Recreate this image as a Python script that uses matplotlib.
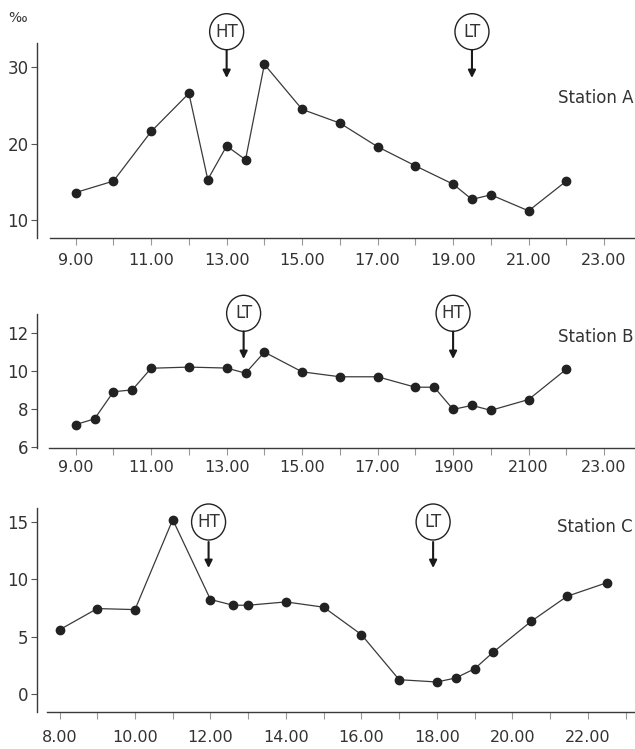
import matplotlib
matplotlib.use("Agg")
import matplotlib.pyplot as plt
from matplotlib.patches import Ellipse

# ---------------- data ----------------
a_time = [9.0, 10.0, 11.0, 12.0, 12.5, 13.0, 13.5, 14.0, 15.0, 16.0, 17.0, 18.0, 19.0, 19.5, 20.0, 21.0, 22.0]
a_sal = [13.6, 15.1, 21.6, 26.6, 15.3, 19.7, 17.9, 30.4, 24.5, 22.7, 19.6, 17.1, 14.7, 12.7, 13.3, 11.2, 15.1]

b_time = [9.0, 9.5, 10.0, 10.5, 11.0, 12.0, 13.0, 13.5, 14.0, 15.0, 16.0, 17.0, 18.0, 18.5, 19.0, 19.5, 20.0, 21.0, 22.0]
b_sal = [7.17, 7.47, 8.9, 9.0, 10.14, 10.2, 10.15, 9.88, 10.99, 9.95, 9.69, 9.69, 9.14, 9.14, 7.97, 8.18, 7.92, 8.49, 10.09]

c_time = [8.0, 9.0, 10.0, 11.0, 12.0, 12.6, 13.0, 14.0, 15.0, 16.0, 17.0, 18.0, 18.5, 19.0, 19.5, 20.5, 21.45, 22.5]
c_sal = [5.6, 7.45, 7.36, 15.2, 8.24, 7.74, 7.74, 8.03, 7.57, 5.18, 1.25, 1.05, 1.4, 2.2, 3.67, 6.34, 8.52, 9.7]

ab_xticks = [9, 11, 13, 15, 17, 19, 21, 23]
a_xlabels = ["9.00", "11.00", "13.00", "15.00", "17.00", "19.00", "21.00", "23.00"]
b_xlabels = ["9.00", "11.00", "13.00", "15.00", "17.00", "1900", "2100", "23.00"]
c_xticks = [8, 10, 12, 14, 16, 18, 20, 22]
c_xlabels = ["8.00", "10.00", "12.00", "14.00", "16.00", "18.00", "20.00", "22.00"]

a_yticks = [10, 20, 30]
b_yticks = [6, 8, 10, 12]
c_yticks = [0, 5, 10, 15]

a_tides = [("HT", 13.0), ("LT", 19.5)]
b_tides = [("LT", 13.45), ("HT", 19.0)]
c_tides = [("HT", 11.95), ("LT", 17.9)]

stations = ["Station A", "Station B", "Station C"]

# ---------------- layout ----------------
W, H = 635, 749
fig = plt.figure(figsize=(W / 100, H / 100), dpi=100)
plt.rcParams['font.family'] = ['DejaVu Sans']

TXT = '#333333'
LINE = '#3a3a3a'
DOT = '#222222'


def fx(px):
    return px / W


def fy(py):
    return 1 - py / H


panels = [
    dict(px=(37, 635, 43, 238), xlim=(7.975, 23.82), ylim=(7.64, 33.2), xs=8.32,
         t=a_time, v=a_sal, xt=ab_xticks, xl=a_xlabels, yt=a_yticks, tides=a_tides,
         pad=6, circ=31.7, arr=(50, 78), st_y=98),
    dict(px=(37, 635, 314, 447.7), xlim=(7.975, 23.82), ylim=(5.95, 13.0), xs=8.29,
         t=b_time, v=b_sal, xt=ab_xticks, xl=b_xlabels, yt=b_yticks, tides=b_tides,
         pad=4, circ=313.3, arr=(331.5, 359), st_y=337),
    dict(px=(36.5, 635, 508.3, 711.7), xlim=(7.39, 23.25), ylim=(-1.54, 16.19), xs=7.67,
         t=c_time, v=c_sal, xt=c_xticks, xl=c_xlabels, yt=c_yticks, tides=c_tides,
         pad=8, circ=522, arr=(542, 568), st_y=527),
]

for i, p in enumerate(panels):
    l, r, t, b = p['px']
    ax = fig.add_axes([fx(l), fy(b), fx(r - l), (b - t) / H])
    ax.set_xlim(*p['xlim'])
    ax.set_ylim(*p['ylim'])
    ax.patch.set_alpha(0)
    for s in ('top', 'right'):
        ax.spines[s].set_visible(False)
    ax.spines['left'].set_color('#3a3a3a')
    ax.spines['left'].set_linewidth(1.0)
    ax.spines['bottom'].set_color('#3a3a3a')
    ax.spines['bottom'].set_linewidth(1.0)
    ax.spines['bottom'].set_bounds(p['xs'], p['xlim'][1])

    ax.plot(p['t'], p['v'], '-', color=LINE, lw=0.9, zorder=2)
    ax.plot(p['t'], p['v'], 'o', color=DOT, ms=6.0, mec=DOT, zorder=3)

    lo = int(min(p['xt']))
    ax.set_xticks(p['xt'])
    ax.set_xticklabels(p['xl'])
    ax.set_xticks([h for h in range(lo, int(p['xlim'][1]) + 1)], minor=True)
    ax.tick_params(axis='x', which='both', direction='out', length=5, width=0.8,
                   color='#999999', labelsize=11.5, labelcolor=TXT, pad=p['pad'])
    ax.set_yticks(p['yt'])
    ax.set_yticklabels([str(v) for v in p['yt']])
    ax.tick_params(axis='y', direction='out', length=4, width=0.8, color='#555555',
                   labelsize=12, labelcolor=TXT, pad=2)

    # tide markers
    for lab, tt in p['tides']:
        xpix = ax.transData.transform((tt, 0))[0]
        cx = xpix / W
        e = Ellipse((cx, fy(p['circ'])), width=34 / W, height=36 / H,
                    transform=fig.transFigure, fill=False, ec='#222222', lw=1.0)
        fig.add_artist(e)
        fig.text(cx, fy(p['circ']), lab, ha='center', va='center', fontsize=12,
                 color=TXT)
        fig.add_artist(matplotlib.patches.FancyArrowPatch(
            (cx, fy(p['arr'][0])), (cx, fy(p['arr'][1])),
            transform=fig.transFigure, arrowstyle='-|>', mutation_scale=11,
            color='#1a1a1a', lw=1.5, shrinkA=0, shrinkB=0))

    fig.text(fx(633), fy(p['st_y']), stations[i], ha='right', va='center',
             fontsize=12, color=TXT)

fig.text(fx(8), fy(18), "‰", ha='left', va='center', fontsize=10, color=TXT)

fig.savefig("out.png", dpi=100)
